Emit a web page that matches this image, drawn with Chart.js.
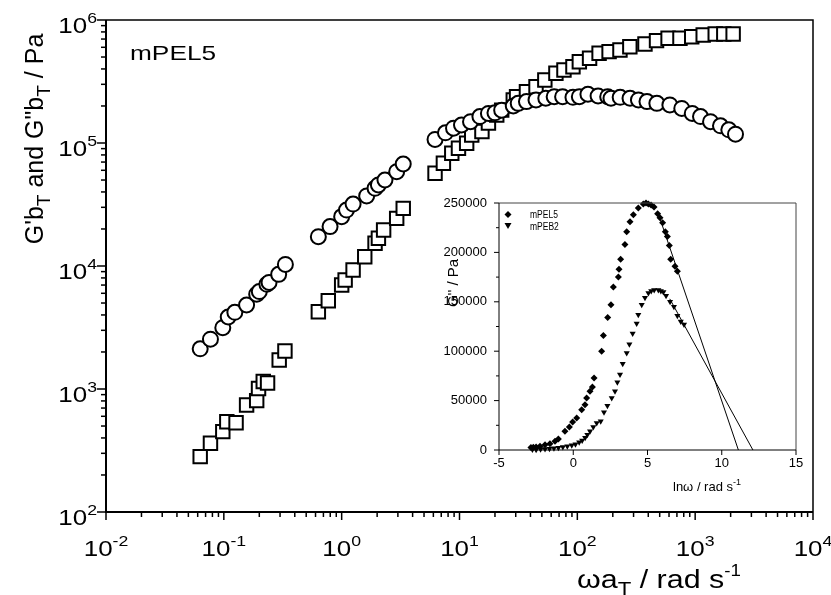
<!DOCTYPE html>
<html>
<head>
<meta charset="utf-8">
<script src="https://cdn.jsdelivr.net/npm/chart.js@4.4.1/dist/chart.umd.min.js"></script>
<style>
  body { margin: 0; background: #fff; }
  #wrap { position: relative; width: 831px; height: 595px; }
  #wrap canvas { position: absolute; left: 0; top: 0; }
</style>
</head>
<body>
<div id="wrap">
  <canvas id="mainChart" width="831" height="595"></canvas>
  <canvas id="insetChart" width="831" height="595"></canvas>
</div>
<script>
// master curve, G''bT (circles)
const lossX = [0.063, 0.077, 0.098, 0.109, 0.124, 0.156, 0.19, 0.2, 0.232, 0.242, 0.292, 0.333,
  0.634, 0.797, 1.0, 1.1, 1.25, 1.63, 1.92, 2.05, 2.33, 2.93, 3.33,
  6.2, 7.6, 8.9, 10.4, 12.4, 14.9, 17.6, 20.0, 22.8, 28.6, 31.5, 37, 44.6, 54, 63.6, 75, 91.8, 104,
  123, 150, 181, 193, 231, 280, 330, 390, 473, 610, 770, 945, 1110, 1350, 1640, 1930, 2200];
const lossY = [2120, 2540, 3150, 3850, 4200, 4820, 5900, 6200, 7100, 7350, 8550, 10300,
  17300, 20900, 25200, 28500, 31900, 37100, 42800, 45600, 50000, 58500, 67500,
  107000, 121000, 132000, 140000, 149000, 164000, 174000, 176000, 185000, 200000, 210000, 217000,
  224000, 231000, 238000, 238000, 235000, 238000,
  249000, 241000, 238000, 231000, 235000, 231000, 224000, 217000, 210000, 204000, 191000, 174000,
  164000, 149000, 138000, 128000, 118000];

// master curve, G'bT (squares)
const storX = [0.063, 0.077, 0.098, 0.106, 0.127, 0.156, 0.19, 0.197, 0.216, 0.235, 0.295, 0.33,
  0.634, 0.77, 1.0, 1.07, 1.25, 1.57, 1.92, 2.05, 2.27, 2.93, 3.33,
  6.2, 7.3, 8.6, 9.8, 11.5, 12.7, 15.5, 17.6, 20.7, 22.8, 28.6, 30.5, 37, 44.6, 53, 65.8, 77, 91.8,
  104, 127, 153, 186, 230, 279, 375, 470, 589, 743, 935, 1170, 1480, 1750, 2100];
const storY = [282, 362, 450, 542, 532, 741, 804, 1010, 1150, 1120, 1720, 2040,
  4250, 5220, 7010, 7690, 9270, 11900, 15300, 16800, 19600, 24400, 29400,
  56700, 68400, 82400, 90500, 99500, 116000, 124000, 145000, 169000, 185000, 224000, 238000,
  261000, 287000, 325000, 369000, 392000, 417000,
  458000, 489000, 536000, 553000, 570000, 607000, 638000, 680000, 710000, 710000, 731000, 755000,
  770000, 770000, 770000];

const mainXExp = [-2, -1, 0, 1, 2, 3, 4];
const mainYExp = [2, 3, 4, 5, 6];

// inset: G'' against ln(omega)
const pel5Ln = [-2.85, -2.69, -2.5, -2.24, -1.9, -1.57, -1.23, -1.0, -0.56, -0.26, -0.04, 0.23,
  0.57, 0.79, 0.9, 1.13, 1.29, 1.4, 1.91, 2.03, 2.32, 2.54, 2.7, 3.04, 3.08, 3.19, 3.48, 3.6, 3.82,
  4.05, 4.38, 4.72, 4.9, 5.06, 5.24, 5.44, 5.68, 5.84, 6.02, 6.2, 6.34, 6.47, 6.56, 6.85, 7.01];
const pel5G = [2500, 2700, 3000, 3700, 5400, 6400, 8800, 11100, 18900, 23300, 28300, 32400,
  40800, 45900, 52600, 59400, 63800, 72900, 99900, 116000, 134000, 147000, 165000, 175000, 183000,
  193000, 208000, 221000, 231000, 238000, 245000, 249000, 250000, 249000, 248000, 246000, 239000,
  235000, 230000, 221000, 216000, 207000, 193000, 186000, 181000];
const peb2Ln = [-2.75, -2.5, -2.2, -1.9, -1.6, -1.3, -1.0, -0.7, -0.4, -0.1, 0.15, 0.4, 0.6, 0.8,
  0.95, 1.13, 1.35, 1.58, 1.85, 2.07, 2.3, 2.59, 2.81, 2.97, 3.15, 3.33, 3.6, 3.78, 4.0, 4.27, 4.38,
  4.61, 4.83, 5.06, 5.25, 5.45, 5.73, 5.9, 6.07, 6.25, 6.52, 6.78, 7.01, 7.24, 7.46];
const peb2G = [500, 300, 700, 900, 1200, 1700, 2200, 3000, 3800, 4800, 5800, 7800, 9500, 12500,
  15500, 18900, 23300, 27300, 29000, 38100, 44900, 52600, 59400, 68500, 76300, 87400, 98200, 107000,
  118000, 128000, 137000, 147000, 154000, 159000, 161000, 162000, 162000, 161000, 160000, 156000,
  150000, 145000, 136000, 130000, 127000];
const pel5FitX = [5.8, 11.12];
const pel5FitY = [236000, 0];
const peb2FitX = [6.5, 12.1];
const peb2FitY = [153000, 0];
const insetXTicks = [-5, 0, 5, 10, 15];
const insetYTicks = [0, 50000, 100000, 150000, 200000, 250000];

const FONT = '"Liberation Sans", Arial, sans-serif';

function pts(xs, ys) {
  return xs.map((x, i) => ({ x: x, y: ys[i] }));
}

// text made of pieces (for superscripts / subscripts)
function richText(ctx, parts, x, y, align, sx) {
  ctx.save();
  ctx.translate(x, y);
  ctx.scale(sx || 1, 1);
  ctx.textAlign = 'left';
  ctx.textBaseline = 'alphabetic';
  let total = 0;
  parts.forEach((p) => {
    ctx.font = p.size + 'px ' + FONT;
    p.w = ctx.measureText(p.text).width;
    total += p.w;
  });
  let cx = align === 'right' ? -total : align === 'center' ? -total / 2 : 0;
  parts.forEach((p) => {
    ctx.font = p.size + 'px ' + FONT;
    ctx.fillText(p.text, cx, p.dy || 0);
    cx += p.w;
  });
  ctx.restore();
}

function seg(ctx, x1, y1, x2, y2) {
  ctx.beginPath();
  ctx.moveTo(x1, y1);
  ctx.lineTo(x2, y2);
  ctx.stroke();
}

const mainAxes = {
  id: 'mainAxes',
  afterDraw(chart) {
    const ctx = chart.ctx;
    const a = chart.chartArea;
    const xs = chart.scales.x;
    const ys = chart.scales.y;
    ctx.save();
    ctx.strokeStyle = '#000';
    ctx.fillStyle = '#000';
    ctx.lineWidth = 2;
    ctx.beginPath();
    ctx.moveTo(a.left, a.top);
    ctx.lineTo(a.left, a.bottom);
    ctx.lineTo(a.right, a.bottom);
    ctx.stroke();
    ctx.lineWidth = 1.5;
    ctx.beginPath();
    ctx.moveTo(a.left, a.top);
    ctx.lineTo(a.right, a.top);
    ctx.lineTo(a.right, a.bottom);
    ctx.stroke();

    // y axis ticks and labels
    mainYExp.forEach((e, i) => {
      const py = ys.getPixelForValue(Math.pow(10, e));
      ctx.lineWidth = 1.5;
      seg(ctx, a.left - 9, py, a.left, py);
      if (i < mainYExp.length - 1) {
        for (let m = 2; m < 10; m++) {
          const q = ys.getPixelForValue(m * Math.pow(10, e));
          seg(ctx, a.left - 5, q, a.left, q);
        }
      }
      richText(ctx, [{ text: '10', size: 22 }, { text: String(e), size: 15, dy: -10 }],
        a.left - 9, py + 13, 'right', 1.18);
    });

    // x axis ticks and labels
    mainXExp.forEach((e, i) => {
      const px = xs.getPixelForValue(Math.pow(10, e));
      ctx.lineWidth = 1.5;
      seg(ctx, px, a.bottom, px, a.bottom + 8);
      if (i < mainXExp.length - 1) {
        for (let m = 2; m < 10; m++) {
          const q = xs.getPixelForValue(m * Math.pow(10, e));
          seg(ctx, q, a.bottom, q, a.bottom + 5);
        }
      }
      richText(ctx, [{ text: '10', size: 22 }, { text: String(e), size: 15, dy: -10 }],
        px, a.bottom + 44, 'center', 1.18);
    });

    // axis titles
    richText(ctx, [{ text: '\u03c9a', size: 26 }, { text: 'T', size: 19, dy: 7 },
      { text: ' / rad s', size: 26 }, { text: '-1', size: 16, dy: -12 }], 577, 588, 'left', 1.17);

    ctx.save();
    ctx.translate(43, 139);
    ctx.rotate(-Math.PI / 2);
    richText(ctx, [{ text: "G'b", size: 25 }, { text: 'T', size: 19, dy: 7 },
      { text: ' and G"b', size: 25 }, { text: 'T', size: 19, dy: 7 },
      { text: ' / Pa', size: 25 }], 0, 0, 'center', 1);
    ctx.restore();

    richText(ctx, [{ text: 'mPEL5', size: 21 }], 130, 60, 'left', 1.25);
    ctx.restore();
  }
};

const insetAxes = {
  id: 'insetAxes',
  afterDraw(chart) {
    const ctx = chart.ctx;
    const a = chart.chartArea;
    const xs = chart.scales.x;
    const ys = chart.scales.y;
    ctx.save();
    ctx.strokeStyle = '#444';
    ctx.lineWidth = 1;
    ctx.beginPath();
    ctx.moveTo(a.left, a.top);
    ctx.lineTo(a.right, a.top);
    ctx.lineTo(a.right, a.bottom);
    ctx.stroke();
    ctx.strokeStyle = '#000';
    ctx.beginPath();
    ctx.moveTo(a.left, a.top);
    ctx.lineTo(a.left, a.bottom);
    ctx.lineTo(a.right, a.bottom);
    ctx.stroke();

    ctx.fillStyle = '#000';
    ctx.font = '13px ' + FONT;
    ctx.textAlign = 'right';
    ctx.textBaseline = 'middle';
    insetYTicks.forEach((v, i) => {
      const py = ys.getPixelForValue(v);
      seg(ctx, a.left - 5, py, a.left, py);
      if (i < insetYTicks.length - 1) {
        const q = ys.getPixelForValue(v + 25000);
        seg(ctx, a.left - 3, q, a.left, q);
      }
      ctx.fillText(String(v), a.left - 12, py);
    });
    ctx.textAlign = 'center';
    ctx.textBaseline = 'top';
    insetXTicks.forEach((v) => {
      const px = xs.getPixelForValue(v);
      seg(ctx, px, a.bottom, px, a.bottom + 5);
      ctx.fillText(String(v), px, a.bottom + 7);
    });

    richText(ctx, [{ text: 'ln\u03c9 / rad s', size: 13 }, { text: '-1', size: 9, dy: -6 }],
      673, 491, 'left', 1);

    ctx.save();
    ctx.translate(458, 283);
    ctx.rotate(-Math.PI / 2);
    richText(ctx, [{ text: "G'' / Pa", size: 15 }], 0, 0, 'center', 1);
    ctx.restore();

    // legend
    const lx = a.left + 9;
    ctx.fillStyle = '#000';
    ctx.beginPath();
    ctx.moveTo(lx, a.top + 8);
    ctx.lineTo(lx + 3.5, a.top + 11.5);
    ctx.lineTo(lx, a.top + 15);
    ctx.lineTo(lx - 3.5, a.top + 11.5);
    ctx.closePath();
    ctx.fill();
    ctx.beginPath();
    ctx.moveTo(lx - 3.5, a.top + 20);
    ctx.lineTo(lx + 3.5, a.top + 20);
    ctx.lineTo(lx, a.top + 26);
    ctx.closePath();
    ctx.fill();
    richText(ctx, [{ text: 'mPEL5', size: 10 }], a.left + 31, a.top + 15, 'left', 0.85);
    richText(ctx, [{ text: 'mPEB2', size: 10 }], a.left + 31, a.top + 27, 'left', 0.85);
    ctx.restore();
  }
};

new Chart(document.getElementById('mainChart'), {
  type: 'scatter',
  data: {
    datasets: [
      {
        label: "G''bT",
        data: pts(lossX, lossY),
        pointStyle: 'circle',
        pointRadius: 7.5,
        borderWidth: 2,
        borderColor: '#000',
        backgroundColor: '#fff',
        clip: false,
      },
      {
        label: "G'bT",
        data: pts(storX, storY),
        pointStyle: 'rect',
        pointRadius: 9.5,
        borderWidth: 2,
        borderColor: '#000',
        backgroundColor: '#fff',
        clip: false,
      },
    ],
  },
  options: {
    responsive: false,
    animation: false,
    devicePixelRatio: 1,
    layout: { padding: { left: 106, right: 18, top: 20, bottom: 83 } },
    scales: {
      x: { type: 'logarithmic', min: 0.01, max: 10000, display: false },
      y: { type: 'logarithmic', min: 100, max: 1000000, display: false },
    },
    plugins: { legend: { display: false }, tooltip: { enabled: false } },
  },
  plugins: [mainAxes],
});

new Chart(document.getElementById('insetChart'), {
  type: 'scatter',
  data: {
    datasets: [
      {
        label: 'mPEL5',
        data: pts(pel5Ln, pel5G),
        pointStyle: 'rectRot',
        pointRadius: 3.5,
        borderWidth: 0,
        backgroundColor: '#000',
        clip: false,
      },
      {
        label: 'mPEB2',
        data: pts(peb2Ln, peb2G),
        pointStyle: 'triangle',
        rotation: 180,
        pointRadius: 3.5,
        borderWidth: 0,
        backgroundColor: '#000',
        clip: false,
      },
      {
        label: 'fit mPEL5',
        data: pts(pel5FitX, pel5FitY),
        showLine: true,
        pointRadius: 0,
        borderWidth: 1,
        borderColor: '#000',
      },
      {
        label: 'fit mPEB2',
        data: pts(peb2FitX, peb2FitY),
        showLine: true,
        pointRadius: 0,
        borderWidth: 1,
        borderColor: '#000',
      },
    ],
  },
  options: {
    responsive: false,
    animation: false,
    devicePixelRatio: 1,
    layout: { padding: { left: 499, right: 35, top: 203, bottom: 145 } },
    scales: {
      x: { type: 'linear', min: -5, max: 15, display: false },
      y: { type: 'linear', min: 0, max: 250000, display: false },
    },
    plugins: { legend: { display: false }, tooltip: { enabled: false } },
  },
  plugins: [insetAxes],
});
</script>
</body>
</html>
